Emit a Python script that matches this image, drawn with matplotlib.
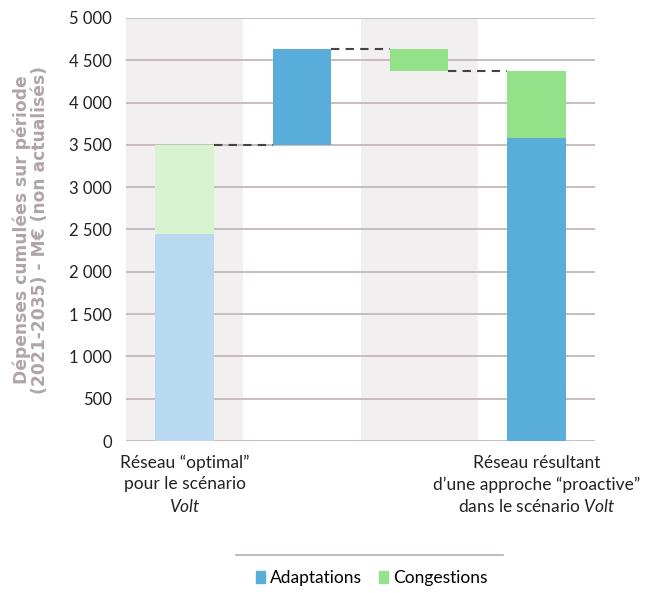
import matplotlib
matplotlib.use("Agg")
import matplotlib.pyplot as plt
from matplotlib.patches import Patch
from matplotlib.lines import Line2D

plt.rcParams["font.family"] = ["Lato", "DejaVu Sans"]
plt.rcParams["mathtext.fontset"] = "custom"
plt.rcParams["mathtext.rm"] = "Lato"
plt.rcParams["mathtext.it"] = "Lato:italic"

# Data (M€, cumulated 2021-2035)
categories = [
    "Réseau “optimal”\npour le scénario\n$\\it{Volt}$",
    "",
    "",
    "Réseau résultant\nd’une approche “proactive”\ndans le scénario $\\it{Volt}$",
]
adapt_optimal = 2450
cong_optimal = 1050
adapt_delta = 1130
cong_delta = -260
series_names = ["Adaptations", "Congestions"]
yticks = [0, 500, 1000, 1500, 2000, 2500, 3000, 3500, 4000, 4500, 5000]

c_adapt = "#59aed9"
c_cong = "#93e28a"
c_adapt_light = "#b9d9f1"
c_cong_light = "#d5f4cf"
c_band = "#f1eff0"
c_grid = "#c9bcc1"

fig = plt.figure(figsize=(6.51, 5.93), dpi=100)
ax = fig.add_axes([126 / 651, 1 - 441 / 593, 469 / 651, 423 / 593])

x = list(range(len(categories)))
w = 0.5

# shaded background bands
for i in (0, 2):
    ax.axvspan(i - 0.5, i + 0.5, color=c_band, zorder=0, lw=0)

# gridlines
for t in yticks:
    ax.axhline(t, color=c_grid, lw=1.4, zorder=1)

total_optimal = adapt_optimal + cong_optimal
after_adapt = total_optimal + adapt_delta
after_cong = after_adapt + cong_delta
adapt_final = adapt_optimal + adapt_delta
cong_final = cong_optimal + cong_delta

# starting bar
ax.bar(x[0], adapt_optimal, w, color=c_adapt_light, zorder=2)
ax.bar(x[0], cong_optimal, w, bottom=adapt_optimal, color=c_cong_light, zorder=2)
# adaptations increase
ax.bar(x[1], adapt_delta, w, bottom=total_optimal, color=c_adapt, zorder=2)
# congestions decrease
ax.bar(x[2], -cong_delta, w, bottom=after_cong, color=c_cong, zorder=2)
# final bar
ax.bar(x[3], adapt_final, w, color=c_adapt, zorder=2)
ax.bar(x[3], cong_final, w, bottom=adapt_final, color=c_cong, zorder=2)

# connectors
for i, level in [(0, total_optimal), (1, after_adapt), (2, after_cong)]:
    ax.plot([x[i] + w / 2, x[i + 1] - w / 2], [level, level],
            ls=(0, (4, 3)), color="#444444", lw=1.5, zorder=3)

ax.set_xlim(-0.5, 3.5)
ax.set_ylim(0, 5000)
ax.set_yticks(yticks)
ax.set_yticklabels([f"{t:,}".replace(",", " ") for t in yticks])
ax.set_xticks(x)
ax.set_xticklabels(categories, linespacing=1.4, fontsize=12.5)
ax.tick_params(axis="both", length=0, labelsize=12, colors="#222222")
ax.tick_params(axis="x", labelsize=12.5)
ax.tick_params(axis="y", pad=10)
ax.tick_params(axis="x", pad=10)
for s in ax.spines.values():
    s.set_visible(False)

fig.text(31 / 651, 1 - 230 / 593,
         "Dépenses cumulées sur période\n(2021-2035) - M€ (non actualisés)",
         rotation=90, ha="center", va="center", fontsize=12.3,
         fontweight="bold", color="#b0a5a6", family="DejaVu Sans",
         linespacing=1.0)

# legend with rule above
fig.add_artist(Line2D([236 / 651, 503 / 651], [1 - 555 / 593, 1 - 555 / 593],
                      transform=fig.transFigure, color="#b9abaf", lw=1.2))
handles = [Patch(color=c_adapt, label=series_names[0]),
           Patch(color=c_cong, label=series_names[1])]
fig.legend(handles=handles, loc="center", bbox_to_anchor=(372 / 651, 1 - 578 / 593),
           ncol=2, frameon=False, fontsize=12.5, handlelength=0.5, handleheight=0.75,
           handletextpad=0.3, columnspacing=1.0)

fig.savefig("out.png", dpi=100)
